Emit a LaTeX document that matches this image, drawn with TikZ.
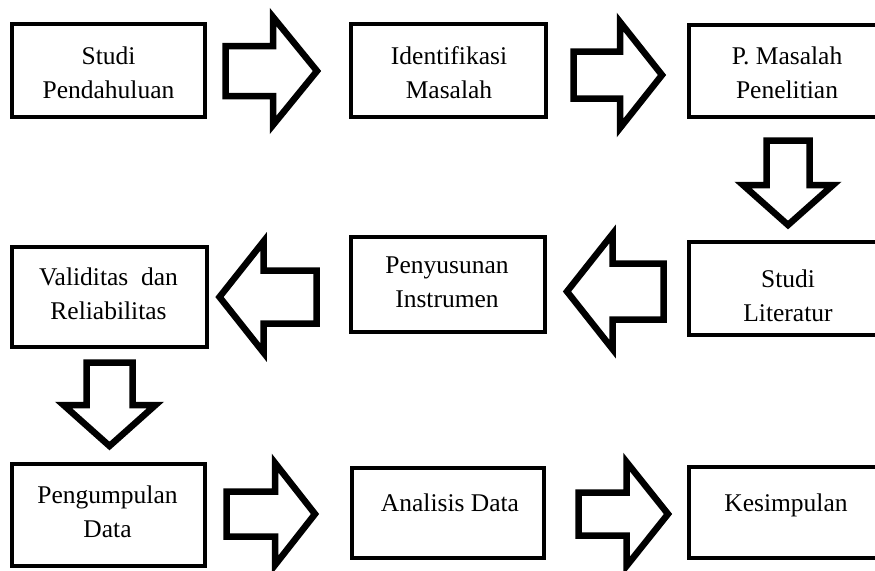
\documentclass[tikz,border=0pt]{standalone}
\usepackage{fontspec}
\setmainfont{Liberation Serif}
\newcommand\rarr[6]{% x0 (shaft end), x1 (head base), x2 (tip), yc, half shaft, half head
  \draw[blockarrow] (#1,{#4-#5}) -- (#2,{#4-#5}) -- (#2,{#4-#6}) -- (#3,#4)
    -- (#2,{#4+#6}) -- (#2,{#4+#5}) -- (#1,{#4+#5}) -- cycle;}
\newcommand\darr[6]{% y0, y1 (head base), y2 (tip), xc, half shaft, half head
  \draw[blockarrow] ({#4-#5},#1) -- ({#4-#5},#2) -- ({#4-#6},#2) -- (#4,#3)
    -- ({#4+#6},#2) -- ({#4+#5},#2) -- ({#4+#5},#1) -- cycle;}
\begin{document}
\begin{tikzpicture}[x=1pt,y=-1pt,
  box/.style={draw=black, line width=3.2pt, fill=white, inner sep=0pt},
  txt/.style={align=center, inner sep=0pt, anchor=base,
    font=\fontsize{25.5}{34}\selectfont},
  blockarrow/.style={draw=black, line width=6.5pt, fill=white, miter limit=10}]
\path[use as bounding box, clip] (0,0) rectangle (875,570);
\fill[white] (0,0) rectangle (875,570);

% row 1
\node[box, minimum width=193pt, minimum height=93pt] (b1) at (108.5,70.5) {};
\node[box, minimum width=195pt, minimum height=93pt] (b2) at (448.5,70.5) {};
\node[box, minimum width=196pt, minimum height=92pt] (b3) at (787,71) {};
% row 2
\node[box, minimum width=195pt, minimum height=100pt] (b4) at (109.5,297) {};
\node[box, minimum width=194pt, minimum height=95pt] (b5) at (448,284.5) {};
\node[box, minimum width=196pt, minimum height=93pt] (b6) at (787,288.5) {};
% row 3
\node[box, minimum width=193pt, minimum height=102pt] (b7) at (108.5,515) {};
\node[box, minimum width=192pt, minimum height=90pt] (b8) at (448,513) {};
\node[box, minimum width=196pt, minimum height=91pt] (b9) at (787,512.5) {};

% texts (anchor = baseline of the last line)
\node[txt] (t1) at (108.5,98) {Studi\\Pendahuluan};
\node[txt] (t2) at (449,98) {Identifikasi\\Masalah};
\node[txt] (t3) at (787,98) {P. Masalah\\Penelitian};
\node[txt] (t4) at (108.5,319) {Validitas\ \ dan\\Reliabilitas};
\node[txt] (t5) at (447,307) {Penyusunan\\Instrumen};
\node[txt] (t6) at (788,321) {Studi\\Literatur};
\node[txt] (t7) at (107.5,537) {Pengumpulan\\Data};
\node[txt] (t8) at (450,511) {Analisis Data};
\node[txt] (t9) at (786,511) {Kesimpulan};

% block arrows
\rarr{225.5}{273}{317}{71}{25}{54}
\rarr{573.5}{620}{662}{75}{23.5}{53}
\darr{140.5}{185}{225}{788}{21.5}{45}
\rarr{663.5}{612.5}{567}{291.5}{28}{57.5}
\rarr{316.5}{263.5}{219.5}{297}{26.5}{55.5}
\darr{362.5}{405}{446}{109.5}{23}{46}
\rarr{226.5}{275}{315}{514}{22.5}{51}
\rarr{578.5}{626.5}{668}{514}{21.5}{52}
\end{tikzpicture}
\end{document}
